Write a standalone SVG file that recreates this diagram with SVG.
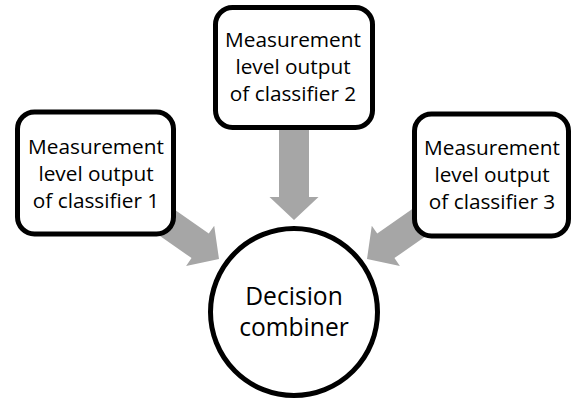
<svg xmlns="http://www.w3.org/2000/svg" width="571" height="399" viewBox="0 0 571 399">
<defs>
<style>
.box{fill:#fff;stroke:#000;stroke-width:5}
.arrow{fill:#a6a6a6;stroke:none}
.t{font-family:"Open Sans","Liberation Sans",Arial,sans-serif;font-size:20.8px;fill:#000;text-anchor:middle}
.t2{font-family:"Open Sans","Liberation Sans",Arial,sans-serif;font-size:24.6px;fill:#000;text-anchor:middle}
</style>
<polygon id="arr" points="0,0 -23,-24.5 -23,-15 -130,-15 -130,15 -23,15 -23,24.5"/>
</defs>
<rect width="571" height="399" fill="#fff"/>
<g id="connectors" class="arrow">
<use href="#arr" transform="translate(219,259) rotate(35)"/>
<use href="#arr" transform="translate(294,220) rotate(90)"/>
<use href="#arr" transform="translate(367,259) rotate(145)"/>
</g>
<g id="node1">
<rect class="box" x="17.5" y="112" width="156" height="122" rx="17"/>
<text class="t" x="96" y="154">Measurement</text>
<text class="t" x="96" y="181">level output</text>
<text class="t" x="96" y="208">of classifier 1</text>
</g>
<g id="node2">
<rect class="box" x="215.5" y="7.5" width="157" height="120" rx="17"/>
<text class="t" x="293" y="47">Measurement</text>
<text class="t" x="293" y="74">level output</text>
<text class="t" x="293" y="101">of classifier 2</text>
</g>
<g id="node3">
<rect class="box" x="414.5" y="114" width="154" height="122" rx="17"/>
<text class="t" x="492" y="155">Measurement</text>
<text class="t" x="492" y="182">level output</text>
<text class="t" x="492" y="209">of classifier 3</text>
</g>
<g id="combiner">
<circle class="box" cx="294" cy="312" r="83.5" stroke-width="4.5"/>
<text class="t2" x="294" y="305">Decision</text>
<text class="t2" x="294" y="336">combiner</text>
</g>
</svg>
